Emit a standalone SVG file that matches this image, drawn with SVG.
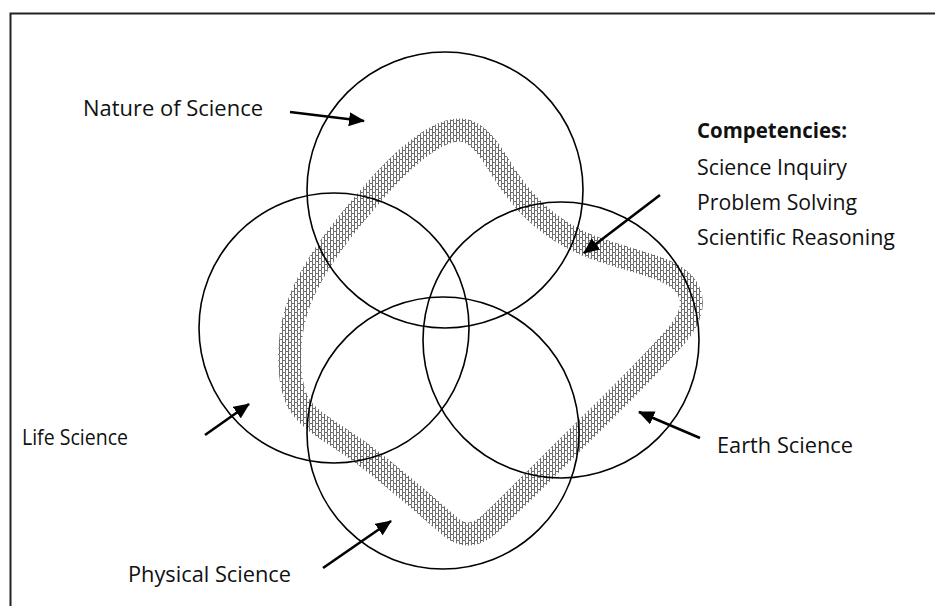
<svg xmlns="http://www.w3.org/2000/svg" width="935" height="606" viewBox="0 0 935 606">
<style>
.circ{fill:none;stroke:#000;stroke-width:1.6}
.lbl{font-family:"Open Sans","Noto Sans","Liberation Sans",sans-serif;font-size:21px;fill:#111}
.b{font-weight:bold}
.arr{stroke:#000;stroke-width:2.6;fill:none;marker-end:url(#ah)}
</style>
<defs>
<marker id="ah" markerUnits="userSpaceOnUse" markerWidth="18" markerHeight="14" refX="15" refY="7" orient="auto">
<path d="M0,0 L16,7 L0,14 Z" fill="#000"/>
</marker>
<pattern id="weave" width="6" height="6" patternUnits="userSpaceOnUse">
<rect width="6" height="6" fill="#fff"/>
<path d="M0 0.5H3.5V3.5H6M0.5 1V6M3.5 3.5V6" stroke="#6a6a6a" stroke-width="1" fill="none"/>
</pattern>
</defs>
<rect width="935" height="606" fill="#fff"/>
<path d="M10.5 606V13.5H935" fill="none" stroke="#222" stroke-width="2"/>
<g id="band">
<path d="M462 130 C478 132 490 150 502 170 C522 203 552 232 592 247 C632 262 668 266 684 284 C698 300 690 320 676 336 C645 372 610 405 570 445 C535 480 510 505 492 522 C478 535 465 538 452 528 C425 505 395 478 360 452 C330 430 305 420 296 398 C286 372 288 330 300 300 C315 262 345 225 380 185 C410 152 440 128 462 130 Z" fill="none" stroke="url(#weave)" stroke-width="23" stroke-linejoin="round"/>
</g>
<g id="nature"><circle class="circ" cx="445" cy="190" r="138"/></g>
<g id="life"><circle class="circ" cx="334" cy="328" r="135"/></g>
<g id="earth"><circle class="circ" cx="561" cy="340" r="138"/></g>
<g id="physical"><circle class="circ" cx="443" cy="433" r="136"/></g>
<g id="connectors">
<line class="arr" x1="290" y1="112" x2="364" y2="121"/>
<line class="arr" x1="660" y1="195" x2="584" y2="253"/>
<line class="arr" x1="205" y1="435" x2="249" y2="404"/>
<line class="arr" x1="700" y1="438" x2="639" y2="412"/>
<line class="arr" x1="323" y1="568" x2="391" y2="521"/>
</g>
<g id="labels">
<text class="lbl" x="83" y="116" textLength="180" lengthAdjust="spacingAndGlyphs">Nature of Science</text>
<text class="lbl b" x="697" y="138" textLength="150" lengthAdjust="spacingAndGlyphs">Competencies:</text>
<text class="lbl" x="697" y="175" textLength="150" lengthAdjust="spacingAndGlyphs">Science Inquiry</text>
<text class="lbl" x="697" y="210" textLength="160" lengthAdjust="spacingAndGlyphs">Problem Solving</text>
<text class="lbl" x="697" y="245" textLength="198" lengthAdjust="spacingAndGlyphs">Scientific Reasoning</text>
<text class="lbl" x="22" y="445" textLength="106" lengthAdjust="spacingAndGlyphs">Life Science</text>
<text class="lbl" x="717" y="453" textLength="136" lengthAdjust="spacingAndGlyphs">Earth Science</text>
<text class="lbl" x="128" y="582" textLength="163" lengthAdjust="spacingAndGlyphs">Physical Science</text>
</g>
</svg>
